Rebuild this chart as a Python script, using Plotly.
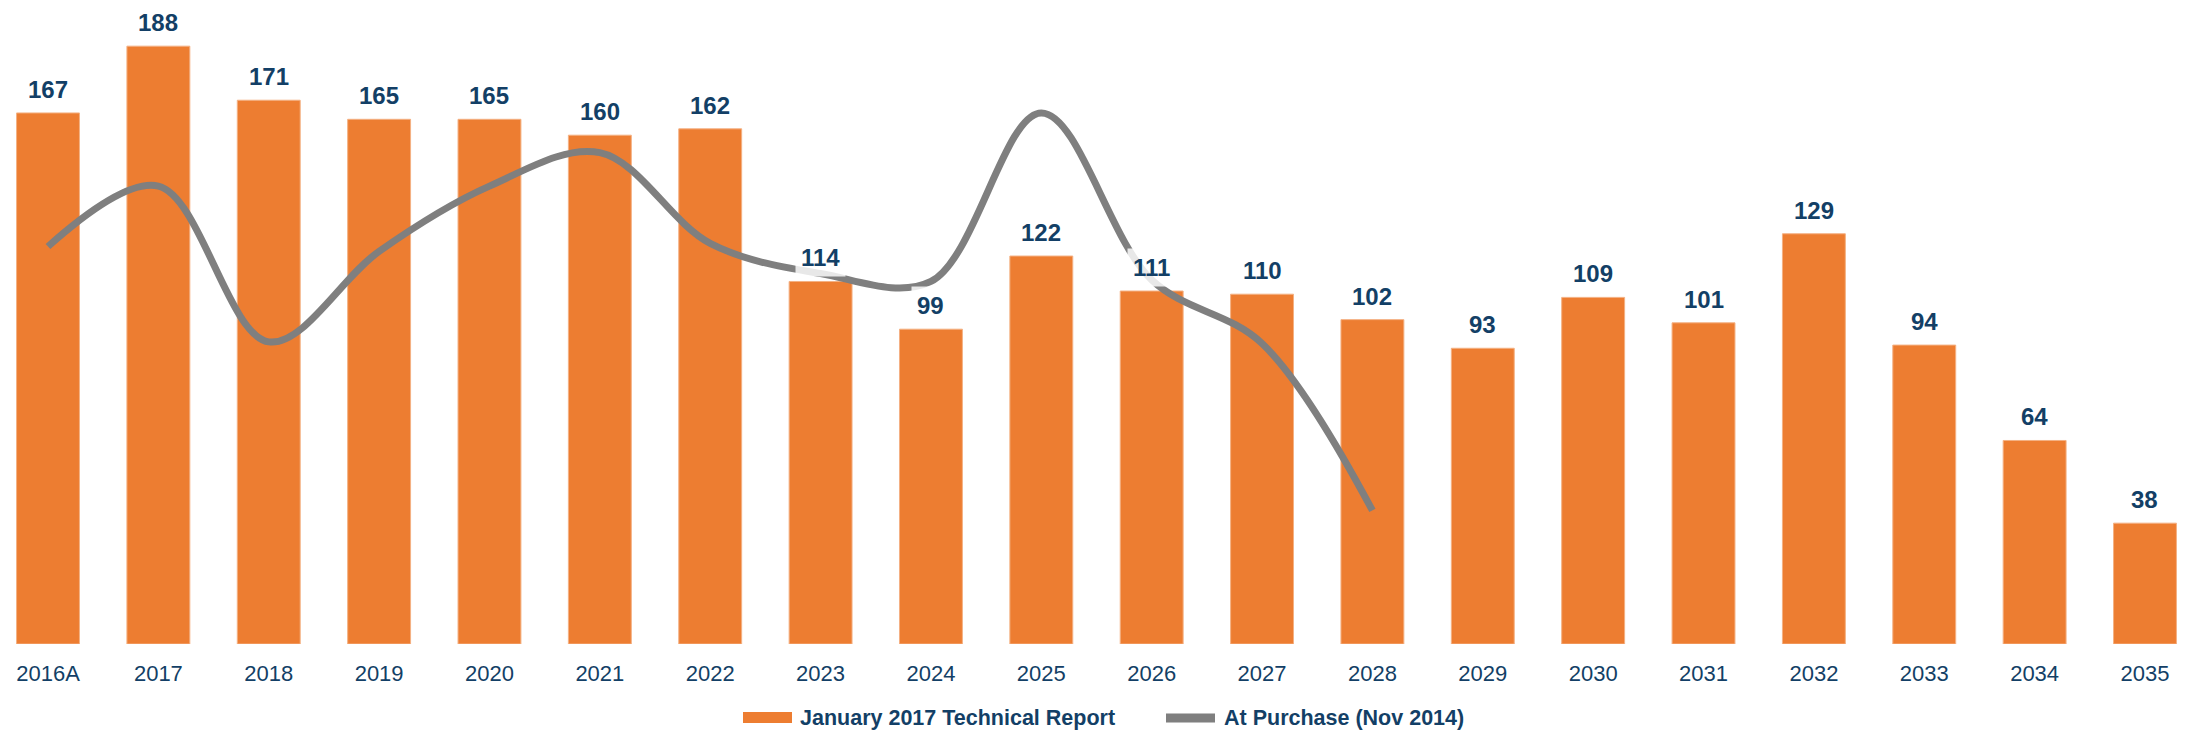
import plotly.graph_objects as go

categories = ["2016A", "2017", "2018", "2019", "2020", "2021", "2022", "2023", "2024", "2025",
              "2026", "2027", "2028", "2029", "2030", "2031", "2032", "2033", "2034", "2035"]
report_values = [167, 188, 171, 165, 165, 160, 162, 114, 99, 122,
                 111, 110, 102, 93, 109, 101, 129, 94, 64, 38]
purchase_categories = categories[:13]
purchase_values = [125, 144, 95, 123.5, 144, 154.5, 126, 116.5, 114, 167, 114.5, 94.5, 42]

series_names = ["January 2017 Technical Report", "At Purchase (Nov 2014)"]

W, H = 2193, 731
PLOT_BOTTOM = 644
NAVY = "#133F66"
ORANGE = "#ED7D31"
GRAY = "#7F7F7F"
FONT = "Liberation Sans, Arial, sans-serif"

fig = go.Figure()
fig.add_trace(go.Bar(
    x=categories, y=report_values, name=series_names[0],
    marker=dict(color=ORANGE, line=dict(color="#F4B183", width=1)),
    showlegend=False,
))
fig.add_trace(go.Scatter(
    x=purchase_categories, y=purchase_values, name=series_names[1],
    mode="lines", line=dict(color=GRAY, width=7, shape="spline", smoothing=1.0),
    showlegend=False,
))

# data labels (x given as category index so numeric-looking names are not misread)
for i, v in enumerate(report_values):
    fig.add_annotation(
        x=i, y=v, xref="x", yref="y", text=f"<b>{v}</b>", showarrow=False,
        yanchor="bottom", xanchor="center", yshift=4,
        font=dict(family=FONT, size=24, color=NAVY),
        bgcolor="rgba(255,255,255,0.82)", borderpad=5,
    )

def px(x):
    return x / W

def py(y):
    return (PLOT_BOTTOM - y) / PLOT_BOTTOM

# custom legend
fig.add_shape(type="rect", xref="paper", yref="paper",
              x0=px(743), x1=px(792), y0=py(723), y1=py(712),
              fillcolor=ORANGE, line=dict(width=0))
fig.add_annotation(x=px(798), y=py(718), xref="paper", yref="paper",
                   text=f"<b>{series_names[0]}</b>", showarrow=False,
                   xanchor="left", yanchor="middle",
                   font=dict(family=FONT, size=21.5, color=NAVY))
fig.add_shape(type="line", xref="paper", yref="paper",
              x0=px(1166), x1=px(1215), y0=py(718), y1=py(718),
              line=dict(color=GRAY, width=9))
fig.add_annotation(x=px(1222), y=py(718), xref="paper", yref="paper",
                   text=f"<b>{series_names[1]}</b>", showarrow=False,
                   xanchor="left", yanchor="middle",
                   font=dict(family=FONT, size=21.5, color=NAVY))

fig.update_layout(
    width=W, height=H,
    margin=dict(l=0, r=0, t=0, b=H - PLOT_BOTTOM),
    paper_bgcolor="white", plot_bgcolor="white",
    bargap=0.43,
    showlegend=False,
    font=dict(family=FONT, color=NAVY),
)
fig.update_xaxes(
    type="category", range=[-0.435, 19.435],
    showgrid=False, zeroline=False, showline=False, ticks="",
    ticklabelstandoff=14,
    tickfont=dict(family=FONT, size=22, color=NAVY),
)
fig.update_yaxes(
    range=[0, PLOT_BOTTOM / 3.18], visible=False, showgrid=False, zeroline=False,
)

fig.write_html(
    "out.html",
    config={"displayModeBar": False},
    post_script="document.body.style.margin='0';document.body.style.overflow='hidden';",
)
